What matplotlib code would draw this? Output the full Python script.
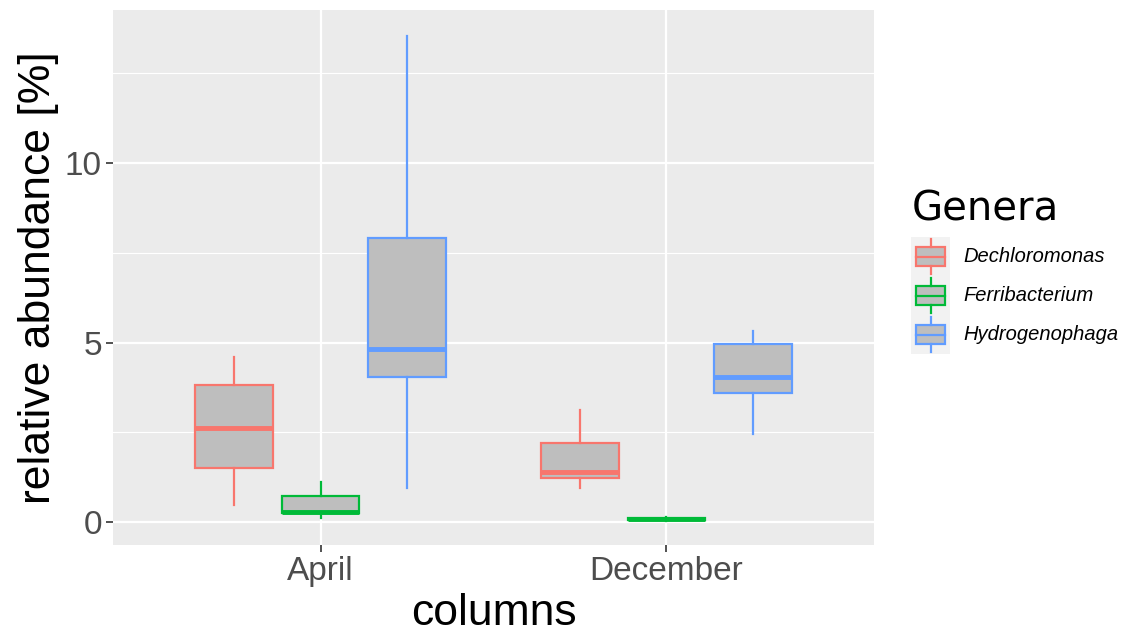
import matplotlib
matplotlib.use("Agg")
import matplotlib.pyplot as plt
from matplotlib.patches import Rectangle

# Box statistics per month and genus: whisker low, Q1, median, Q3, whisker high
months = ["April", "December"]
genera = ["Dechloromonas", "Ferribacterium", "Hydrogenophaga"]
colors = ["#F8766D", "#00BA38", "#619CFF"]

april_whislo = [0.47, 0.11, 0.95]
april_q1 = [1.50, 0.25, 4.04]
april_med = [2.62, 0.30, 4.82]
april_q3 = [3.82, 0.72, 7.91]
april_whishi = [4.60, 1.11, 13.54]

december_whislo = [0.95, 0.05, 2.45]
december_q1 = [1.23, 0.07, 3.59]
december_med = [1.39, 0.09, 4.04]
december_q3 = [2.20, 0.11, 4.96]
december_whishi = [3.12, 0.14, 5.32]

y_ticks = [0, 5, 10]
y_minor = [2.5, 7.5, 12.5]

stats_by_month = {
    "April": (april_whislo, april_q1, april_med, april_q3, april_whishi),
    "December": (december_whislo, december_q1, december_med, december_q3, december_whishi),
}

W, H = 1126, 634
fig = plt.figure(figsize=(W / 100, H / 100), dpi=100)
ax = fig.add_axes([113 / W, 1 - 545 / H, (874 - 113) / W, (545 - 10) / H])
ax.set_facecolor("#EBEBEB")

dodge = 0.75
n = len(genera)
box_w = dodge / n * 0.9
lw = 1.6

for mi, month in enumerate(months):
    lo, q1, med, q3, hi = stats_by_month[month]
    for gi in range(n):
        x = mi + 1 + (gi - (n - 1) / 2) * dodge / n
        c = colors[gi]
        st = [dict(whislo=lo[gi], q1=q1[gi], med=med[gi], q3=q3[gi], whishi=hi[gi], fliers=[])]
        ax.bxp(st, positions=[x], widths=box_w, patch_artist=True, showcaps=False,
               showfliers=False,
               boxprops=dict(facecolor="#BEBEBE", edgecolor=c, linewidth=lw),
               whiskerprops=dict(color=c, linewidth=lw),
               medianprops=dict(color=c, linewidth=lw * 2.2, solid_capstyle="butt"),
               manage_ticks=False, zorder=3)

ax.set_xlim(0.4, 2.6)
ax.set_ylim(-0.63, 14.25)
ax.set_xticks([1, 2])
ax.set_xticklabels(months)
ax.set_yticks(y_ticks)
ax.set_yticks(y_minor, minor=True)
ax.grid(True, which="major", color="white", linewidth=1.6, zorder=0)
ax.grid(True, which="minor", axis="y", color="white", linewidth=0.8, zorder=0)
ax.set_axisbelow(True)
for s in ax.spines.values():
    s.set_visible(False)
ax.tick_params(which="major", length=5, width=1.2, color="#333333",
               labelcolor="#4D4D4D", labelsize=24, pad=3)
ax.tick_params(which="minor", length=0)
for t in ax.get_xticklabels() + ax.get_yticklabels():
    t.set_fontfamily("Liberation Sans")

ax.set_xlabel("columns", fontsize=32, family="Liberation Sans", labelpad=4)
ax.set_ylabel("relative abundance [%]", fontsize=32, family="Liberation Sans", labelpad=4)

# Legend
fig.text(912 / W, 1 - 210 / H, "Genera", fontsize=29, family="DejaVu Sans",
         va="center", ha="left")
kax = fig.add_axes([911 / W, 1 - 354 / H, 39 / W, 117 / H])
kax.set_facecolor("#F2F2F2")
kax.set_xlim(0, 1)
kax.set_ylim(0, 3)
kax.set_xticks([])
kax.set_yticks([])
for s in kax.spines.values():
    s.set_visible(False)
for gi, g in enumerate(genera):
    yc = 2.5 - gi
    c = colors[gi]
    kax.plot([0.5, 0.5], [yc - 0.45, yc - 0.25], color=c, lw=lw)
    kax.plot([0.5, 0.5], [yc + 0.25, yc + 0.45], color=c, lw=lw)
    kax.add_patch(Rectangle((0.12, yc - 0.25), 0.76, 0.5, facecolor="#BEBEBE",
                            edgecolor=c, lw=lw))
    kax.plot([0.12, 0.88], [yc, yc], color=c, lw=lw)
    fig.text(963 / W, 1 - (237 + 39 * (gi + 0.5)) / H, g, fontsize=14.5,
             style="italic", family="Liberation Sans", va="center", ha="left")

fig.savefig("out.png", dpi=100)
